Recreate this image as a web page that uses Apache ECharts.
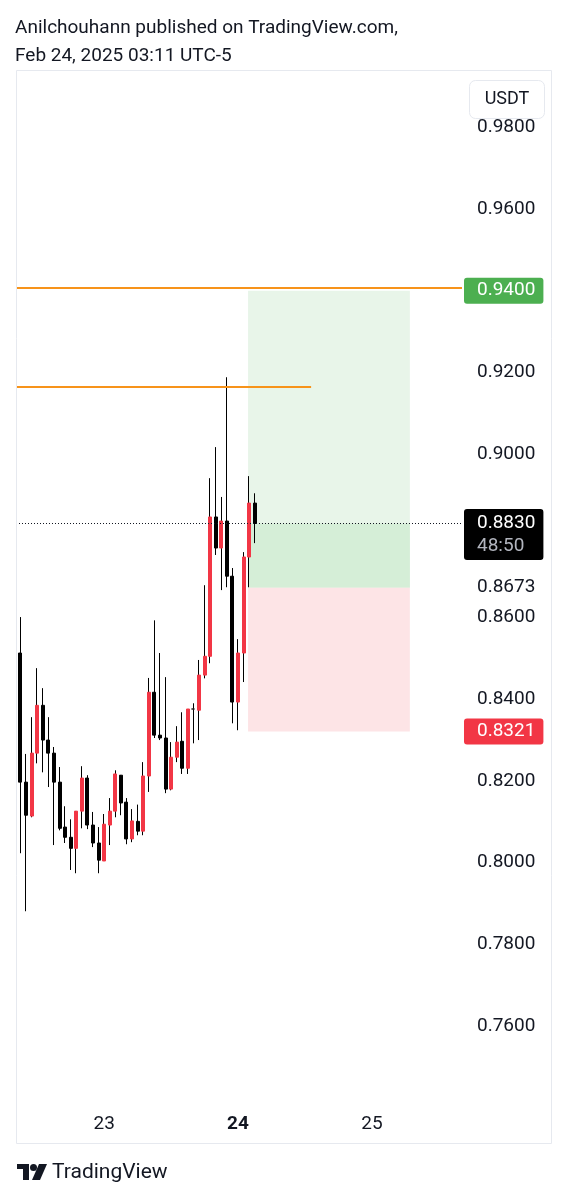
<!DOCTYPE html>
<html><head><meta charset="utf-8">
<style>html,body{margin:0;padding:0;background:#fff}#c{width:568px;height:1200px}</style>
<script src="https://cdn.jsdelivr.net/npm/echarts@6/dist/echarts.min.js"></script>
</head><body><div id="c"></div>
<script>
// hours relative to Feb 24 00:00 (UTC-5), one candle per hour
const hours  = [-40,-39,-38,-37,-36,-35,-34,-33,-32,-31,-30,-29,-28,-27,-26,-25,-24,-23,-22,-21,-20,-19,-18,-17,-16,-15,-14,-13,-12,-11,-10,-9,-8,-7,-6,-5,-4,-3,-2,-1,0,1,2,3];
const opens  = [0.8784,0.8513,0.8197,0.8114,0.8268,0.8385,0.8300,0.8268,0.8197,0.8087,0.8062,0.8035,0.8126,0.8207,0.8092,0.8048,0.8004,0.8092,0.8126,0.8214,0.8148,0.8058,0.8101,0.8077,0.8212,0.8417,0.8312,0.8305,0.8180,0.8258,0.8297,0.8231,0.8376,0.8373,0.8459,0.8505,0.8846,0.8770,0.8836,0.8701,0.8393,0.8513,0.8748,0.8880];
const closes = [0.8513,0.8197,0.8116,0.8268,0.8385,0.8300,0.8268,0.8197,0.8084,0.8062,0.8035,0.8126,0.8207,0.8092,0.8048,0.8006,0.8094,0.8126,0.8217,0.8146,0.8058,0.8102,0.8077,0.8212,0.8417,0.8312,0.8305,0.8180,0.8258,0.8295,0.8231,0.8376,0.8376,0.8459,0.8505,0.8846,0.8770,0.8836,0.8701,0.8393,0.8513,0.8748,0.8880,0.8830];
const lows   = [0.8513,0.8023,0.7881,0.8111,0.8243,0.8221,0.8185,0.8043,0.8079,0.8048,0.7982,0.7974,0.8084,0.8082,0.8038,0.7974,0.8004,0.8043,0.8111,0.8116,0.8045,0.8050,0.8067,0.8067,0.8173,0.8305,0.8300,0.8170,0.8177,0.8246,0.8217,0.8217,0.8292,0.8300,0.8451,0.8488,0.8753,0.8667,0.8674,0.8341,0.8324,0.8442,0.8674,0.8782];
const highs  = [0.8784,0.8601,0.8266,0.8356,0.8476,0.8427,0.8356,0.8283,0.8234,0.8138,0.8106,0.8126,0.8236,0.8214,0.8124,0.8087,0.8119,0.8158,0.8226,0.8214,0.8158,0.8131,0.8142,0.8246,0.8452,0.8593,0.8513,0.8454,0.8295,0.8334,0.8368,0.8376,0.8390,0.8496,0.8679,0.8941,0.9017,0.8895,0.9188,0.8721,0.8547,0.8760,0.8946,0.8904];

const priceTicks = [0.76,0.78,0.80,0.82,0.84,0.86,0.8673,0.90,0.92,0.96,0.98];
const dayTicks   = [-24,0,24];
const dayLabels  = ['23','24','25'];
const boldDay    = '24';

const lastPrice   = 0.8830;
const countdown   = '48:50';
const entryPrice  = 0.8673;
const targetPrice = 0.9400;
const stopPrice   = 0.8321;
const positionStart = 1.8, positionEnd = 30.8;
const level1 = 0.9408;
const level2 = 0.9164, level2End = 13.1;

const X_MIN = -39.8, X_MAX = 40.15, Y_MIN = 0.7419, Y_MAX = 0.9940;
const FONT = 'Roboto, "Noto Sans", sans-serif';
const TXT = '#131722';
const NONE = 'rgba(0,0,0,0)';

const fullRows = hours.map((h,i)=>[h, opens[i], closes[i], lows[i], highs[i]]);
const bodyRows = hours.map((h,i)=>[h, opens[i], closes[i], Math.min(opens[i],closes[i]), Math.max(opens[i],closes[i])]);

const chart = echarts.init(document.getElementById('c'), null, {renderer:'canvas'});
chart.setOption({
  animation:false,
  backgroundColor:'#fff',
  textStyle:{fontFamily:FONT},
  title:{
    text:'Anilchouhann published on TradingView.com,\nFeb 24, 2025 03:11 UTC-5',
    left:10, top:9,
    textStyle:{fontSize:19, fontWeight:'normal', color:TXT, lineHeight:28, fontFamily:FONT}
  },
  grid:{left:16, right:106, top:70, bottom:100, show:false},
  xAxis:{
    type:'value', min:X_MIN, max:X_MAX,
    splitLine:{show:false}, axisLine:{show:false}, axisTick:{show:false},
    axisLabel:{
      customValues: dayTicks, margin:15, fontSize:19, color:TXT, fontFamily:FONT,
      formatter:(v)=>{ const i = dayTicks.indexOf(v); const s = dayLabels[i]; return s===boldDay ? '{b|'+s+'}' : s; },
      rich:{b:{fontWeight:'bold', fontSize:19, color:TXT, fontFamily:FONT}}
    }
  },
  yAxis:{
    type:'value', position:'right', min:Y_MIN, max:Y_MAX, scale:true,
    splitLine:{show:false}, axisLine:{show:false}, axisTick:{show:false},
    axisLabel:{customValues: priceTicks, formatter:(v)=>v.toFixed(4), margin:15, padding:[3,0,0,0], fontSize:19, color:TXT, fontFamily:FONT}
  },
  series:[
    {
      type:'line', name:'zones', data:[], z:1, silent:true,
      markArea:{
        silent:true,
        data:[
          [{xAxis:positionStart, yAxis:targetPrice, itemStyle:{color:'#e8f5e9'}},{xAxis:positionEnd, yAxis:entryPrice}],
          [{xAxis:positionStart, yAxis:lastPrice, itemStyle:{color:'#d5eed7'}},{xAxis:positionEnd, yAxis:entryPrice}],
          [{xAxis:positionStart, yAxis:entryPrice, itemStyle:{color:'#fde4e6'}},{xAxis:positionEnd, yAxis:stopPrice}]
        ]
      }
    },
    {
      type:'candlestick', name:'wicks', data:fullRows, encode:{x:0, y:[1,2,3,4]},
      barWidth:1, clip:false, z:2, silent:true,
      itemStyle:{color:'#000', color0:'#000', borderColor:'#000', borderColor0:'#000', borderColorDoji:'#000', borderWidth:1}
    },
    {
      type:'candlestick', name:'bodies', data:bodyRows, encode:{x:0, y:[1,2,3,4]},
      barWidth:3.5, clip:false, z:3, silent:true,
      itemStyle:{color:'#f23645', color0:'#000', borderColor:'#f23645', borderColor0:'#000', borderColorDoji:'#222', borderWidth:1}
    },
    {
      type:'line', name:'levels', data:[], z:5, silent:true,
      markLine:{
        silent:true, symbol:['none','none'], animation:false, precision:6,
        data:[
          {yAxis:level1, lineStyle:{color:'#f7931a', width:2, type:'solid'}, label:{show:false}},
          [{coord:[X_MIN, level2], lineStyle:{color:'#f7931a', width:2, type:'solid'}, label:{show:false}},{coord:[level2End, level2]}],
          {yAxis:lastPrice, lineStyle:{color:'#131722', width:1, type:[1,2]},
            label:{show:true, position:'end', distance:2, offset:[0,11],
              formatter:'{p|'+lastPrice.toFixed(4)+'}\n{t|'+countdown+'}',
              backgroundColor:'#000', borderRadius:3, padding:[3,8,2,13],
              rich:{p:{color:'#fff', fontSize:19, lineHeight:23, fontFamily:FONT}, t:{color:'#b2b5be', fontSize:19, lineHeight:23, fontFamily:FONT}}}},
          {yAxis:targetPrice, lineStyle:{color:NONE, width:1},
            label:{show:true, position:'end', distance:2, formatter:targetPrice.toFixed(4), color:'#fff', fontSize:19, fontFamily:FONT,
              backgroundColor:'#4caf50', borderRadius:3, padding:[4,8,3,13]}},
          {yAxis:stopPrice, lineStyle:{color:NONE, width:1},
            label:{show:true, position:'end', distance:2, formatter:stopPrice.toFixed(4), color:'#fff', fontSize:19, fontFamily:FONT,
              backgroundColor:'#f23645', borderRadius:3, padding:[4,8,3,13]}}
        ]
      }
    }
  ],
  graphic:[
    {type:'rect', z:50, silent:true, shape:{x:0, y:70, width:16, height:1074}, style:{fill:'#fff'}},
    {type:'rect', z:51, silent:true, shape:{x:16.5, y:70.5, width:535, height:1073}, style:{fill:'none', stroke:'#e6e9ef', lineWidth:1}},
    {type:'rect', z:52, silent:true, shape:{x:469.5, y:80.5, width:75, height:38, r:6}, style:{fill:'#fff', stroke:'#e6e9ef', lineWidth:1}},
    {type:'text', z:53, silent:true, x:507, y:99, style:{text:'USDT', fill:TXT, font:'18px '+FONT, align:'center', verticalAlign:'middle'}},
    {type:'group', z:53, x:17, y:1164, silent:true, children:[
      {type:'rect', shape:{x:0, y:0, width:12, height:5}, style:{fill:TXT}},
      {type:'rect', shape:{x:6, y:0, width:6, height:16}, style:{fill:TXT}},
      {type:'circle', shape:{cx:16.5, cy:3.5, r:3.5}, style:{fill:TXT}},
      {type:'polygon', shape:{points:[[22,0],[30,0],[23,16],[15,16]]}, style:{fill:TXT}}
    ]},
    {type:'text', z:53, silent:true, x:52, y:1173, style:{text:'TradingView', fill:TXT, font:'21px '+FONT, verticalAlign:'middle'}}
  ]
});
</script></body></html>
